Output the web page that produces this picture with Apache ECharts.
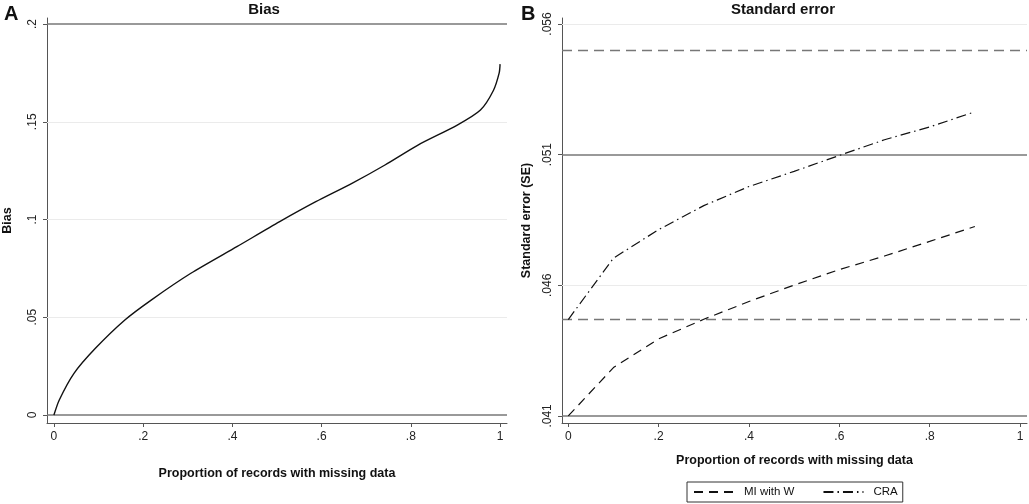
<!DOCTYPE html>
<html>
<head>
<meta charset="utf-8">
<script src="https://cdn.jsdelivr.net/npm/echarts@6/dist/echarts.min.js"></script>
<style>html,body{margin:0;padding:0;background:#fff}#c{width:1029px;height:504px}</style>
</head>
<body>
<div id="c"></div>
<script>
// ---- data ----
const biasX = [0, 0.012, 0.045, 0.093, 0.159, 0.218, 0.307, 0.41, 0.506, 0.587, 0.668, 0.742, 0.816, 0.904, 0.956, 0.985, 0.998, 1.0];
const biasY = [0, 0.0077, 0.0213, 0.0341, 0.0486, 0.0588, 0.0725, 0.0861, 0.0989, 0.1091, 0.1185, 0.1279, 0.1381, 0.1483, 0.156, 0.166, 0.175, 0.1795];
const seX = [0, 0.1, 0.2, 0.3, 0.4, 0.5, 0.6, 0.7, 0.8, 0.9];
const miW = [0.0410, 0.04285, 0.04395, 0.04470, 0.04538, 0.04601, 0.04660, 0.04712, 0.04768, 0.04825];
const cra = [0.04469, 0.04704, 0.04813, 0.04905, 0.04978, 0.05036, 0.05097, 0.05157, 0.05206, 0.05264];
const xTicks = [0, 0.2, 0.4, 0.6, 0.8, 1];
const biasTicks = [0, 0.05, 0.1, 0.15, 0.2];
const seTicks = [0.041, 0.046, 0.051, 0.056];
const biasRefSolid = [0, 0.2];
const biasGridVals = [0.05, 0.1, 0.15];
const seRefSolid = [0.041, 0.051];
const seRefDashed = [0.04469, 0.055];
const seGridVals = [0.046, 0.056];

const fmt = v => (Math.abs(v) < 1e-12 ? '0' : String(+v.toFixed(6)).replace(/^0\./, '.'));
const font = 'Liberation Sans, Arial, Helvetica, sans-serif';
const axisCol = '#555';
const refCol = '#777';
const gridCol = '#ebebeb';

function xAxisCfg(idx, min, max, gap) {
  return {
    type: 'value', gridIndex: idx, min: min, max: max,
    name: 'Proportion of records with missing data', nameLocation: 'middle', nameGap: gap,
    nameTextStyle: {fontFamily: font, fontWeight: 'bold', fontSize: 12.5, color: '#111'},
    axisLine: {show: true, onZero: false, lineStyle: {color: axisCol, width: 1}},
    axisTick: {show: true, length: 4, customValues: xTicks, lineStyle: {color: axisCol}},
    axisLabel: {customValues: xTicks, formatter: fmt, fontFamily: font, fontSize: 12, color: '#222', margin: 8},
    splitLine: {show: false}
  };
}
function yAxisCfg(idx, min, max, ticks, name, gap) {
  return {
    type: 'value', gridIndex: idx, min: min, max: max,
    name: name, nameLocation: 'middle', nameGap: gap, nameRotate: 90,
    nameTextStyle: {fontFamily: font, fontWeight: 'bold', fontSize: 12.5, color: '#111'},
    axisLine: {show: true, onZero: false, lineStyle: {color: axisCol, width: 1}},
    axisTick: {show: true, length: 4, customValues: ticks, lineStyle: {color: axisCol}},
    axisLabel: {customValues: ticks, formatter: fmt, rotate: 90, fontFamily: font, fontSize: 12, color: '#222', margin: 8},
    splitLine: {show: false}
  };
}

const biasMark = [].concat(
  biasGridVals.map(v => ({yAxis: v, lineStyle: {color: gridCol, width: 1, type: 'solid'}})),
  biasRefSolid.map(v => ({yAxis: v, lineStyle: {color: refCol, width: 1.5, type: 'solid'}}))
);
const seMark = [].concat(
  seGridVals.map(v => ({yAxis: v, lineStyle: {color: gridCol, width: 1, type: 'solid'}})),
  seRefSolid.map(v => ({yAxis: v, lineStyle: {color: refCol, width: 1.5, type: 'solid'}})),
  seRefDashed.map(v => ({yAxis: v, lineStyle: {color: refCol, width: 1.3, type: [10, 6]}}))
);

const option = {
  animation: false,
  backgroundColor: '#fff',
  title: [
    {text: 'Bias', left: 259, top: -3, textAlign: 'center', textStyle: {fontFamily: font, fontWeight: 'bold', fontSize: 15, color: '#111'}},
    {text: 'Standard error', left: 778, top: -3, textAlign: 'center', textStyle: {fontFamily: font, fontWeight: 'bold', fontSize: 15, color: '#111'}},
    {text: 'A', left: -1, top: -1, textStyle: {fontFamily: font, fontWeight: 'bold', fontSize: 20, color: '#111'}},
    {text: 'B', left: 516, top: -1, textStyle: {fontFamily: font, fontWeight: 'bold', fontSize: 20, color: '#111'}}
  ],
  grid: [
    {left: 41, right: 522, top: 18, bottom: 81},
    {left: 562, right: 2, top: 18, bottom: 81}
  ],
  xAxis: [
    xAxisCfg(0, -0.0155, 1.0155, 44),
    xAxisCfg(1, -0.0139, 1.0155, 31)
  ],
  yAxis: [
    yAxisCfg(0, -0.0041, 0.2031, biasTicks, 'Bias', 33),
    yAxisCfg(1, 0.04073, 0.05623, seTicks, 'Standard error (SE)', 29)
  ],
  legend: {
    data: ['MI with W', 'CRA'],
    left: 687, top: 482,
    padding: [4, 5, 4, 6], itemGap: 28, itemWidth: 40, itemHeight: 12,
    borderColor: '#333', borderWidth: 1, borderRadius: 0,
    itemStyle: {opacity: 0},
    textStyle: {fontFamily: font, fontSize: 11.5, color: '#111', padding: [0, 0, 0, 5]}
  },
  series: [
    {
      name: 'Bias', type: 'line', xAxisIndex: 0, yAxisIndex: 0, z: 3,
      data: biasX.map((x, i) => [x, biasY[i]]),
      showSymbol: false, symbol: 'none', smooth: 0.25,
      lineStyle: {color: '#111', width: 1.4},
      markLine: {silent: true, z: 1, symbol: 'none', precision: 6, label: {show: false}, animation: false, data: biasMark}
    },
    {
      name: 'MI with W', type: 'line', xAxisIndex: 1, yAxisIndex: 1, z: 3,
      data: seX.map((x, i) => [x, miW[i]]),
      showSymbol: false, symbol: 'none',
      lineStyle: {color: '#111', width: 1.2, type: [9, 6]},
      itemStyle: {color: '#111'},
      markLine: {silent: true, z: 1, symbol: 'none', precision: 6, label: {show: false}, animation: false, data: seMark}
    },
    {
      name: 'CRA', type: 'line', xAxisIndex: 1, yAxisIndex: 1, z: 3,
      data: seX.map((x, i) => [x, cra[i]]),
      showSymbol: false, symbol: 'none',
      lineStyle: {color: '#111', width: 1.2, type: [10, 4, 1.5, 4]},
      itemStyle: {color: '#111'}
    }
  ]
};
const chart = echarts.init(document.getElementById('c'), null, {renderer: 'canvas'});
chart.setOption(option);
</script>
</body>
</html>
